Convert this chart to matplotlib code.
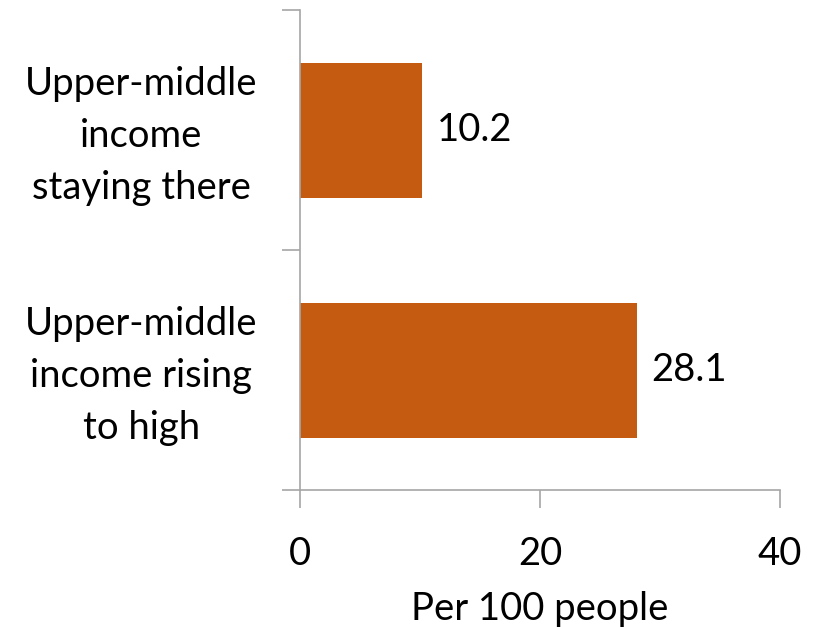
import matplotlib
matplotlib.use('Agg')
import matplotlib.pyplot as plt

categories = ["Upper-middle\nincome rising\nto high", "Upper-middle\nincome\nstaying there"]
values = [28.1, 10.2]
xticks = [0, 20, 40]

bar_color = '#C55A11'
axis_color = '#A6A6A6'
fs = 27.5
plt.rcParams['font.family'] = ['Lato', 'DejaVu Sans']

fig = plt.figure(figsize=(8.17, 6.27), dpi=100)
ax = fig.add_axes([300 / 817, 1 - 490 / 627, 480 / 817, 480 / 627])

ypos = list(range(len(categories)))
ax.barh(ypos, values, height=0.5625, color=bar_color)
for y, v in zip(ypos, values):
    ax.text(v + 1.2, y, f'{v:.1f}', va='center', ha='left', fontsize=fs)

ax.set_xlim(0, 40)
ax.set_ylim(-0.5, 1.5)
ax.set_xticks(xticks)
ax.set_xticklabels([str(t) for t in xticks], fontsize=fs)
ax.set_yticks([-0.5, 0.5, 1.5])
ax.set_yticklabels([])
# category labels drawn as centred multi-line text left of the axis
for y, lab in zip(ypos, categories):
    ax.text(-0.331, y - 0.025, lab, transform=ax.get_yaxis_transform(), ha='center', va='center',
            fontsize=fs, linespacing=1.55)
ax.set_xlabel('Per 100 people', fontsize=fs, labelpad=14)

for s in ['top', 'right']:
    ax.spines[s].set_visible(False)
for s in ['left', 'bottom']:
    ax.spines[s].set_color(axis_color)
    ax.spines[s].set_linewidth(1.2)
ax.tick_params(axis='both', color=axis_color, length=13, width=1.2)
ax.tick_params(axis='x', pad=20)

fig.savefig('out.png', dpi=100)
